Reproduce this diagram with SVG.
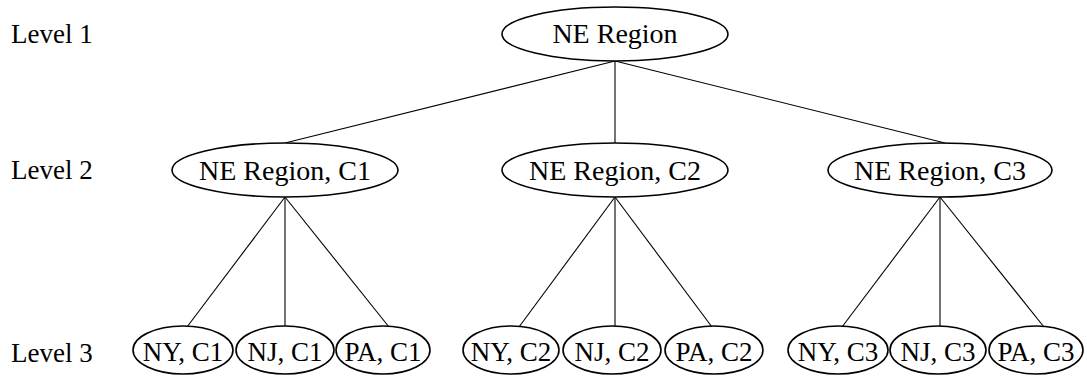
<svg xmlns="http://www.w3.org/2000/svg" width="1087" height="381" viewBox="0 0 1087 381">
<rect width="1087" height="381" fill="#fff"/>
<g id="levels" font-size="27" font-family="Liberation Serif">
<text x="11" y="43" font-family="Liberation Serif">Level 1</text>
<text x="11" y="179" font-family="Liberation Serif">Level 2</text>
<text x="11" y="362" font-family="Liberation Serif">Level 3</text>
</g>
<g id="connectors" stroke="#000" stroke-width="1.1">
<line x1="615" y1="61" x2="285" y2="143"/>
<line x1="615" y1="61" x2="615" y2="143"/>
<line x1="615" y1="61" x2="945" y2="143"/>
<line x1="285" y1="197" x2="187" y2="327"/>
<line x1="285" y1="197" x2="285" y2="327"/>
<line x1="285" y1="197" x2="389" y2="327"/>
<line x1="615" y1="197" x2="519" y2="327"/>
<line x1="615" y1="197" x2="615" y2="327"/>
<line x1="615" y1="197" x2="712" y2="327"/>
<line x1="940" y1="197" x2="842" y2="327"/>
<line x1="940" y1="197" x2="940" y2="327"/>
<line x1="940" y1="197" x2="1044" y2="327"/>
</g>
<g id="nodes" text-anchor="middle" font-family="Liberation Serif">
<g id="ne"><ellipse cx="615" cy="34" rx="113" ry="27" fill="#fff" stroke="#000" stroke-width="1.6"/><text x="615" y="43" font-size="28" font-family="Liberation Serif">NE Region</text></g>
<g id="ne-c1"><ellipse cx="285" cy="170" rx="113" ry="27" fill="#fff" stroke="#000" stroke-width="1.6"/><text x="285" y="180" font-size="28" font-family="Liberation Serif">NE Region, C1</text></g>
<g id="ne-c2"><ellipse cx="615" cy="170" rx="113" ry="27" fill="#fff" stroke="#000" stroke-width="1.6"/><text x="615" y="180" font-size="28" font-family="Liberation Serif">NE Region, C2</text></g>
<g id="ne-c3"><ellipse cx="940" cy="170" rx="112" ry="27" fill="#fff" stroke="#000" stroke-width="1.6"/><text x="940" y="180" font-size="28" font-family="Liberation Serif">NE Region, C3</text></g>
<g id="ny-c1"><ellipse cx="183" cy="350" rx="50" ry="24" fill="#fff" stroke="#000" stroke-width="1.6"/><text x="183" y="361" font-size="27" font-family="Liberation Serif">NY, C1</text></g>
<g id="nj-c1"><ellipse cx="285" cy="350" rx="49" ry="24" fill="#fff" stroke="#000" stroke-width="1.6"/><text x="285" y="361" font-size="27" font-family="Liberation Serif">NJ, C1</text></g>
<g id="pa-c1"><ellipse cx="383" cy="350" rx="47" ry="24" fill="#fff" stroke="#000" stroke-width="1.6"/><text x="383" y="361" font-size="27" font-family="Liberation Serif">PA, C1</text></g>
<g id="ny-c2"><ellipse cx="511" cy="350" rx="48" ry="24" fill="#fff" stroke="#000" stroke-width="1.6"/><text x="511" y="361" font-size="27" font-family="Liberation Serif">NY, C2</text></g>
<g id="nj-c2"><ellipse cx="612" cy="350" rx="49" ry="24" fill="#fff" stroke="#000" stroke-width="1.6"/><text x="612" y="361" font-size="27" font-family="Liberation Serif">NJ, C2</text></g>
<g id="pa-c2"><ellipse cx="714" cy="350" rx="49" ry="24" fill="#fff" stroke="#000" stroke-width="1.6"/><text x="714" y="361" font-size="27" font-family="Liberation Serif">PA, C2</text></g>
<g id="ny-c3"><ellipse cx="838" cy="350" rx="50" ry="24" fill="#fff" stroke="#000" stroke-width="1.6"/><text x="838" y="361" font-size="27" font-family="Liberation Serif">NY, C3</text></g>
<g id="nj-c3"><ellipse cx="938" cy="350" rx="48" ry="24" fill="#fff" stroke="#000" stroke-width="1.6"/><text x="938" y="361" font-size="27" font-family="Liberation Serif">NJ, C3</text></g>
<g id="pa-c3"><ellipse cx="1036" cy="350" rx="47" ry="24" fill="#fff" stroke="#000" stroke-width="1.6"/><text x="1036" y="361" font-size="27" font-family="Liberation Serif">PA, C3</text></g>
</g>
</svg>
